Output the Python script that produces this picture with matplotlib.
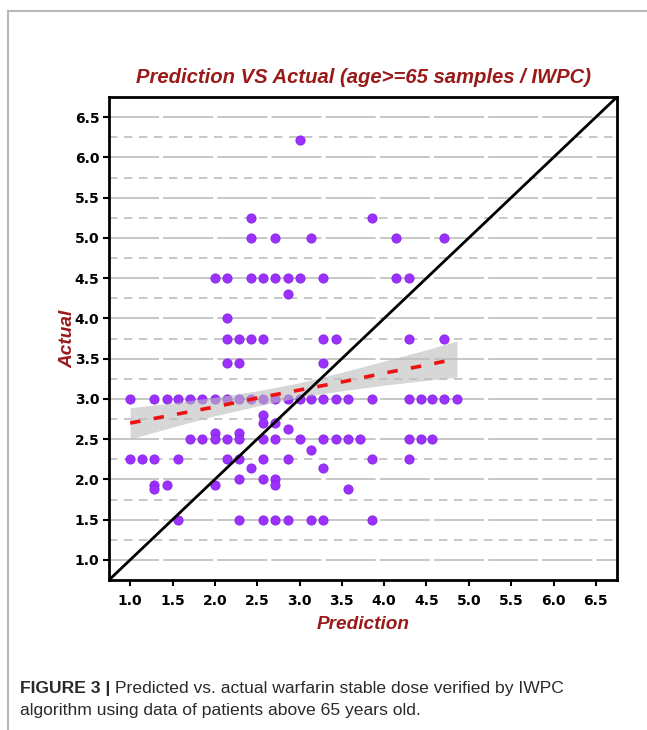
import matplotlib.pyplot as plt
from matplotlib.lines import Line2D
import numpy as np

# actual dose level of each row of points, and the predicted values on that row
actual_rows = [6.21, 5.25, 5.0, 4.5, 4.3, 4.0, 3.75, 3.44, 3.0, 2.8, 2.7, 2.63,
               2.58, 2.5, 2.36, 2.25, 2.14, 2.0, 1.93, 1.88, 1.5]
pred_rows = [
    [3.00],
    [2.43, 3.86],
    [2.43, 2.71, 3.14, 4.14, 4.71],
    [2.00, 2.14, 2.43, 2.57, 2.71, 2.86, 3.00, 3.28, 4.14, 4.29],
    [2.86],
    [2.14],
    [2.14, 2.28, 2.43, 2.57, 3.28, 3.43, 4.29, 4.71],
    [2.14, 2.28, 3.28],
    [1.00, 1.28, 1.43, 1.57, 1.71, 1.85, 2.00, 2.14, 2.28, 2.43, 2.57, 2.71,
     2.86, 3.00, 3.14, 3.28, 3.43, 3.57, 3.86, 4.29, 4.43, 4.57, 4.71, 4.86],
    [2.57],
    [2.57, 2.71],
    [2.86],
    [2.00, 2.28],
    [1.71, 1.85, 2.00, 2.14, 2.28, 2.57, 2.71, 3.00, 3.28, 3.43, 3.57, 3.71,
     4.29, 4.43, 4.57],
    [3.14],
    [1.00, 1.14, 1.28, 1.57, 2.14, 2.28, 2.57, 2.86, 3.86, 4.29],
    [2.43, 3.28],
    [2.28, 2.57, 2.71],
    [1.28, 1.43, 2.00, 2.71],
    [1.28, 3.57],
    [1.57, 2.28, 2.57, 2.71, 2.86, 3.14, 3.28, 3.86],
]

# regression line and its confidence band
fit_x = [1.0, 1.5, 2.0, 2.5, 3.0, 3.5, 4.0, 4.5, 4.86]
fit_y = [2.70, 2.80, 2.90, 3.01, 3.11, 3.21, 3.32, 3.42, 3.50]
band_lo = [2.50, 2.65, 2.79, 2.91, 3.02, 3.10, 3.17, 3.23, 3.27]
band_hi = [2.89, 2.95, 3.02, 3.10, 3.20, 3.33, 3.47, 3.61, 3.72]

tick_values = [1.0, 1.5, 2.0, 2.5, 3.0, 3.5, 4.0, 4.5, 5.0, 5.5, 6.0, 6.5]
axis_limits = [0.75, 6.75]

pred = [p for row in pred_rows for p in row]
actual = [a for a, row in zip(actual_rows, pred_rows) for _ in row]

W, H = 647, 730
fig = plt.figure(figsize=(W / 100, H / 100), dpi=100)
ax = fig.add_axes([109 / W, 1 - 580 / H, 508 / W, 483 / H])

dark_red = '#9a1a1a'

# horizontal grid lines
for v in tick_values:
    ax.axhline(v, color='#bdbdbd', lw=1.2, ls=(0, (30, 2.5)), zorder=1)
for v in np.arange(1.25, 6.76, 0.5):
    ax.axhline(v, color='#bdbdbd', lw=1.2, ls=(0, (5, 4)), zorder=1)

ax.scatter(pred, actual, s=44, color='#9b30ff', edgecolors='#8424e0', linewidths=0.6, zorder=3)
ax.fill_between(fit_x, band_lo, band_hi, color='#bdbdbd', alpha=0.6, lw=0, zorder=4)
ax.plot(fit_x, fit_y, color='#ee1111', lw=2.6, dashes=(2.9, 3.7), zorder=5)
ax.plot(axis_limits, axis_limits, color='black', lw=2, zorder=6)

ax.set_xlim(axis_limits)
ax.set_ylim(axis_limits)
ax.set_xticks(tick_values)
ax.set_yticks(tick_values)
ax.set_xticklabels([f'{v:.1f}' for v in tick_values], fontweight='bold', fontsize=10)
ax.set_yticklabels([f'{v:.1f}' for v in tick_values], fontweight='bold', fontsize=10)
ax.tick_params(length=4, width=1.5)
ax.tick_params(axis='x', pad=6)
ax.tick_params(axis='y', pad=3)
for sp in ax.spines.values():
    sp.set_linewidth(2)

label_font = dict(family='Liberation Sans', fontweight='bold', fontstyle='italic', color=dark_red)
ax.set_title('Prediction VS Actual (age>=65 samples / IWPC)', fontsize=14.6, pad=10, **label_font)
ax.set_xlabel('Prediction', fontsize=13.7, labelpad=6, **label_font)
ax.set_ylabel('Actual', fontsize=13.7, labelpad=-1, **label_font)

# page frame lines
fig.add_artist(Line2D([8 / W, 1], [1 - 10.5 / H] * 2, transform=fig.transFigure, color='#b8b8b8', lw=1.5))
fig.add_artist(Line2D([8 / W] * 2, [0, 1 - 10.5 / H], transform=fig.transFigure, color='#b8b8b8', lw=1.5))

# caption
cap_font = dict(family='Liberation Sans', fontsize=12.6, color='#2a2a2a')
t1 = fig.text(20 / W, 1 - 689 / H, 'FIGURE 3 |', fontweight='bold', va='center', **cap_font)
ax.annotate('Predicted vs. actual warfarin stable dose verified by IWPC', xy=(1, 0), xycoords=t1,
            xytext=(3, 0), textcoords='offset points', va='bottom', annotation_clip=False, **cap_font)
fig.text(20 / W, 1 - 711 / H, 'algorithm using data of patients above 65 years old.', va='center', **cap_font)

fig.savefig('out.png', dpi=100)
